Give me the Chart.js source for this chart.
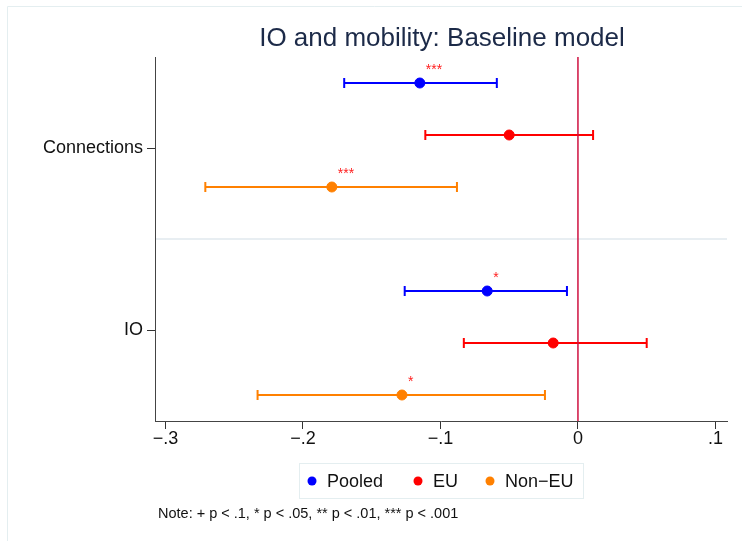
<!DOCTYPE html>
<html>
<head>
<meta charset="utf-8">
<script src="https://cdn.jsdelivr.net/npm/chart.js@4"></script>
<style>
  html, body { margin: 0; padding: 0; background: #fff; }
  #wrap { width: 742px; height: 541px; }
</style>
</head>
<body>
<div id="wrap"><canvas id="grafico" width="742" height="541"></canvas></div>
<script>
// ---- dados do gráfico ----
const grupos = ['Connections', 'IO'];
const grupoTicks = [1.76, 5.25];

const seriesNomes = ['Pooled', 'EU', 'Non\u2212EU'];
const seriesCores = ['#0000ff', '#ff0000', '#ff8000'];
const seriesPos = [[0.5, 4.5], [1.5, 5.5], [2.5, 6.5]];

const estPooled = [-0.115, -0.066];
const loPooled  = [-0.170, -0.126];
const hiPooled  = [-0.059, -0.008];
const starsPooled = ['***', '*'];

const estEU = [-0.050, -0.018];
const loEU  = [-0.111, -0.083];
const hiEU  = [0.011, 0.050];
const starsEU = ['', ''];

const estNonEU = [-0.179, -0.128];
const loNonEU  = [-0.271, -0.233];
const hiNonEU  = [-0.088, -0.024];
const starsNonEU = ['***', '*'];

const xTicks = [-0.3, -0.2, -0.1, 0, 0.1];
const xTickLabels = ['\u2212.3', '\u2212.2', '\u2212.1', '0', '.1'];

const titulo = 'IO and mobility: Baseline model';
const nota = 'Note: + p < .1, * p < .05, ** p < .01, *** p < .001';

const FONTE = '"Liberation Sans", Arial, sans-serif';

const series = [
    { est: estPooled, lo: loPooled, hi: hiPooled, stars: starsPooled },
    { est: estEU, lo: loEU, hi: hiEU, stars: starsEU },
    { est: estNonEU, lo: loNonEU, hi: hiNonEU, stars: starsNonEU }
];

const datasets = series.map((s, i) => ({
    label: seriesNomes[i],
    data: s.est.map((v, g) => ({ x: v, y: seriesPos[i][g] })),
    lo: s.lo, hi: s.hi, stars: s.stars,
    backgroundColor: seriesCores[i],
    borderColor: seriesCores[i],
    pointRadius: 5,
    pointHoverRadius: 5,
    showLine: false
}));

// fundo, moldura, linha separadora, linha do zero e barras de erro
const pluginFundo = {
    id: 'fundo',
    beforeDraw(chart) {
        const ctx = chart.ctx;
        ctx.save();
        ctx.fillStyle = '#ffffff';
        ctx.fillRect(0, 0, chart.width, chart.height);
        ctx.strokeStyle = '#e4eef0';
        ctx.lineWidth = 1;
        ctx.beginPath();
        ctx.moveTo(7.5, chart.height);
        ctx.lineTo(7.5, 6.5);
        ctx.lineTo(chart.width, 6.5);
        ctx.stroke();
        ctx.restore();
    },
    beforeDatasetsDraw(chart) {
        const ctx = chart.ctx;
        const xs = chart.scales.x, ys = chart.scales.y;
        const area = chart.chartArea;
        ctx.save();
        // separador entre grupos
        let ySep = ys.getPixelForValue(3.5);
        ctx.strokeStyle = '#e8eef2';
        ctx.lineWidth = 2;
        ctx.beginPath();
        ctx.moveTo(area.left + 1, ySep);
        ctx.lineTo(area.right, ySep);
        ctx.stroke();

        // barras de erro
        chart.data.datasets.forEach(ds => {
            ctx.strokeStyle = ds.borderColor;
            ctx.lineWidth = 2;
            ds.data.forEach((p, g) => {
                let y = ys.getPixelForValue(p.y);
                let x1 = xs.getPixelForValue(ds.lo[g]);
                let x2 = xs.getPixelForValue(ds.hi[g]);
                ctx.beginPath();
                ctx.moveTo(x1, y); ctx.lineTo(x2, y);
                ctx.moveTo(x1, y - 5); ctx.lineTo(x1, y + 5);
                ctx.moveTo(x2, y - 5); ctx.lineTo(x2, y + 5);
                ctx.stroke();
            });
        });

        // linha vertical no zero
        let x0 = xs.getPixelForValue(0);
        ctx.strokeStyle = '#cf1040';
        ctx.lineWidth = 1.5;
        ctx.beginPath();
        ctx.moveTo(x0, area.top);
        ctx.lineTo(x0, area.bottom);
        ctx.stroke();
        ctx.restore();
    },
    afterDatasetsDraw(chart) {
        const ctx = chart.ctx;
        const xs = chart.scales.x, ys = chart.scales.y;
        ctx.save();
        ctx.fillStyle = '#ff2020';
        ctx.font = '14px ' + FONTE;
        ctx.textAlign = 'left';
        ctx.textBaseline = 'alphabetic';
        chart.data.datasets.forEach(ds => {
            ds.data.forEach((p, g) => {
                if (!ds.stars[g]) return;
                ctx.fillText(ds.stars[g], xs.getPixelForValue(p.x) + 6, ys.getPixelForValue(p.y) - 9);
            });
        });
        ctx.restore();
    },
    afterDraw(chart) {
        const ctx = chart.ctx;
        ctx.save();
        // título
        ctx.fillStyle = '#1c2a48';
        ctx.font = '26px ' + FONTE;
        ctx.textAlign = 'center';
        ctx.textBaseline = 'middle';
        ctx.fillText(titulo, 442, 39);

        // legenda com caixa
        ctx.strokeStyle = '#e4eef0';
        ctx.lineWidth = 1;
        ctx.strokeRect(299.5, 463.5, 284, 35);
        const legX = [312, 418, 490];
        ctx.font = '18px ' + FONTE;
        ctx.textAlign = 'left';
        chart.data.datasets.forEach((ds, i) => {
            ctx.fillStyle = ds.backgroundColor;
            ctx.beginPath();
            ctx.arc(legX[i], 481, 4.5, 0, Math.PI * 2);
            ctx.fill();
            ctx.fillStyle = '#111';
            ctx.fillText(ds.label, legX[i] + 15, 482);
        });

        // nota
        ctx.font = '14.5px ' + FONTE;
        ctx.fillStyle = '#111';
        ctx.fillText(nota, 158, 514);
        ctx.restore();
    }
};

new Chart(document.getElementById('grafico'), {
    type: 'scatter',
    data: { datasets: datasets },
    options: {
        responsive: false,
        animation: false,
        devicePixelRatio: 1,
        layout: { padding: { top: 57, right: 15, bottom: 0, left: 0 } },
        plugins: { legend: { display: false }, tooltip: { enabled: false }, title: { display: false } },
        scales: {
            x: {
                type: 'linear',
                min: -0.3076,
                max: 0.1084,
                afterBuildTicks: sc => { sc.ticks = xTicks.map(v => ({ value: v })); },
                afterFit: sc => { sc.height = 120; },
                ticks: {
                    callback: (v, i) => xTickLabels[i],
                    font: { family: FONTE, size: 18 },
                    color: '#111',
                    padding: -1,
                    maxRotation: 0,
                    autoSkip: false
                },
                grid: { drawOnChartArea: false, drawTicks: true, tickLength: 8, color: '#333' },
                border: { color: '#444', width: 1 }
            },
            y: {
                type: 'linear',
                reverse: true,
                min: 0,
                max: 7,
                afterBuildTicks: sc => { sc.ticks = grupoTicks.map(v => ({ value: v })); },
                afterFit: sc => { sc.width = 155; },
                ticks: {
                    callback: (v, i) => grupos[i],
                    font: { family: FONTE, size: 18 },
                    color: '#111',
                    padding: 4,
                    autoSkip: false
                },
                grid: { drawOnChartArea: false, drawTicks: true, tickLength: 8, color: '#333' },
                border: { color: '#444', width: 1 }
            }
        }
    },
    plugins: [pluginFundo]
});
</script>
</body>
</html>
